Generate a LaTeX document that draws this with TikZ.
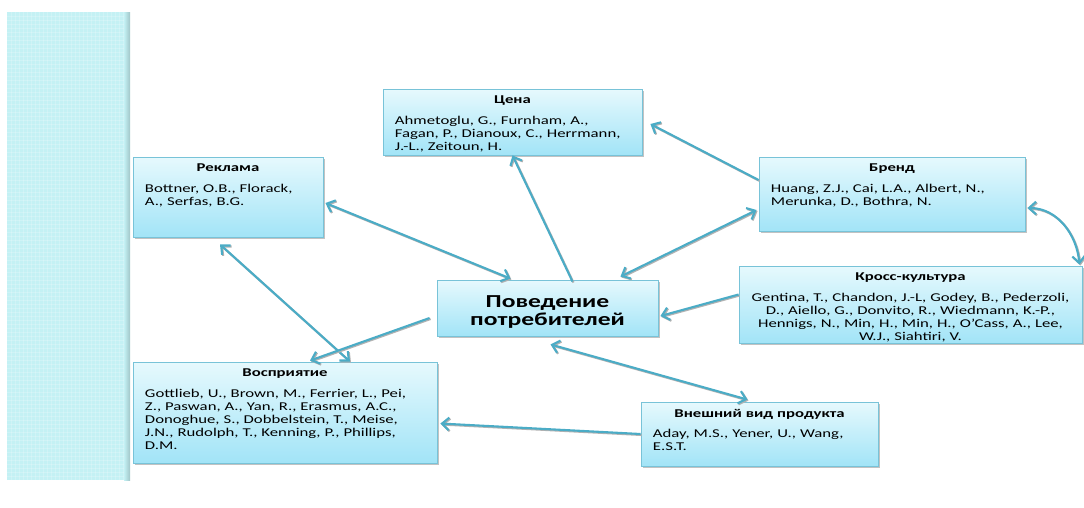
\documentclass[tikz,border=0pt]{standalone}
\usepackage{fontspec}
\setmainfont{Carlito}[FakeStretch=1.4]
\usetikzlibrary{shadows, arrows.meta, fit, calc, positioning}

\definecolor{linkc}{HTML}{4BACC6}
\definecolor{cardtop}{HTML}{E6F9FD}
\definecolor{cardbot}{HTML}{A2E4F7}
\definecolor{cardline}{HTML}{78C3D8}
\definecolor{stripc}{HTML}{C4F1F4}

\tikzset{
  card/.style={draw=cardline, line width=0.6pt, top color=cardtop, bottom color=cardbot,
    inner sep=0pt, drop shadow={shadow xshift=1.6pt, shadow yshift=-1.6pt, opacity=0.4, fill=black!60}},
  cardtext/.style={anchor=north, inner sep=0pt, align=left, font=\fontsize{8.5}{9.25}\selectfont},
  link/.style={draw=linkc, line width=1.5pt,
    preaction={draw=black!30, line width=1.5pt, transform canvas={xshift=0.7pt, yshift=-0.7pt}}},
}
\newcommand{\cardtitle}[1]{\makebox[\hsize]{\bfseries #1}\\[5.5pt]}

\begin{document}
\begin{tikzpicture}[x=0.025cm, y=-0.025cm, >={Straight Barb[length=5pt, width=9pt]}]
        \useasboundingbox (0,0) rectangle (1084,507);
        % left strip
        \fill[stripc] (7,12) rectangle (130,480);
        \foreach \i in {11,15,...,127}
          \draw[white, opacity=0.2, line width=0.3pt] (\i,12) -- (\i,480);
        \foreach \j in {16,20,...,478}
          \draw[white, opacity=0.2, line width=0.3pt] (7,\j) -- (130,\j);
        \shade[left color=stripc, right color=black!18!stripc] (124,12) rectangle (130,480);

        \begin{scope}[every node/.style={card}]
          \node[fit={(383,89) (642,155)}] (cena) {};
          \node[fit={(133,157) (323,237)}] (rek) {};
          \node[fit={(759,157) (1025,231)}] (brend) {};
          \node[fit={(739,266) (1082,343)}] (kross) {};
          \node[fit={(437,280) (658,336)}] (pov) {};
          \node[fit={(133,362) (437,463)}] (vos) {};
          \node[fit={(641,402) (878,466)}] (vid) {};
        \end{scope}

        \begin{scope}[every node/.style={cardtext}]
          \node[anchor=center, align=center, font=\fontsize{13}{13}\selectfont\bfseries] (pov-t)
            at ($(pov.center)+(0,4)$) {Поведение\\потребителей};
          \node[text width=5.875cm] (cena-t) at ($(cena.north)+(0,7)$)
            {\cardtitle{Цена}Ahmetoglu, G., Furnham, A.,\\Fagan, P., Dianoux, C., Herrmann,\\J.-L., Zeitoun, H.};
          \node[text width=4.15cm] (rek-t) at ($(rek.north)+(0,7)$)
            {\cardtitle{Реклама}Bottner, O.B., Florack,\\A., Serfas, B.G.};
          \node[text width=6.05cm] (brend-t) at ($(brend.north)+(0,7)$)
            {\cardtitle{Бренд}Huang, Z.J., Cai, L.A., Albert, N.,\\Merunka, D., Bothra, N.};
          \node[text width=8.4cm, align=center] (kross-t) at ($(kross.north)+(0,7)$)
            {{\bfseries Кросс-культура}\\[5.5pt]Gentina, T., Chandon, J.-L, Godey, B., Pederzoli,\\D., Aiello, G., Donvito, R., Wiedmann, K.-P.,\\Hennigs, N., Min, H., Min, H., O'Cass, A., Lee,\\W.J., Siahtiri, V.};
          \node[text width=7.0cm] (vos-t) at ($(vos.north)+(0,7)$)
            {\cardtitle{Восприятие}Gottlieb, U., Brown, M., Ferrier, L., Pei,\\Z., Paswan, A., Yan, R., Erasmus, A.C.,\\Donoghue, S., Dobbelstein, T., Meise,\\J.N., Rudolph, T., Kenning, P., Phillips,\\D.M.};
          \node[text width=5.325cm] (vid-t) at ($(vid.north)+(0,7)$)
            {\cardtitle{Внешний вид продукта}Aday, M.S., Yener, U., Wang,\\E.S.T.};
        \end{scope}

        \begin{scope}[every edge/.style={link}]
          \path ($(pov.north)+(25,2)$) edge[->] (cena.south);
          \path ($(rek.east)+(2,6)$) edge[<->] ($(pov.north)+(-37,-1)$);
          \path ($(rek.south)+(-8,7)$) edge[<->] ($(vos.north)+(65,0)$);
          \path ($(pov.west)+(-7,10)$) edge[->] ($(vos.north)+(25,-1)$);
          \path ($(brend.west)+(0,-14)$) edge[->] ($(cena.east)+(8,2)$);
          \path ($(pov.north east)+(-38,-3)$) edge[<->] ($(brend.west)+(-2,16)$);
          \path ($(kross.west)+(0,-10)$) edge[->] ($(pov.east)+(2,8)$);
          \path ($(brend.east)+(2,14)$) edge[<->, out=0, in=95] ($(kross.north east)+(-3,-1)$);
          \path ($(pov.south)+(3,8)$) edge[<->] ($(vid.north)+(-12,-2)$);
          \path (vid.west) edge[->] ($(vos.east)+(3,11)$);
        \end{scope}
\end{tikzpicture}
\end{document}
